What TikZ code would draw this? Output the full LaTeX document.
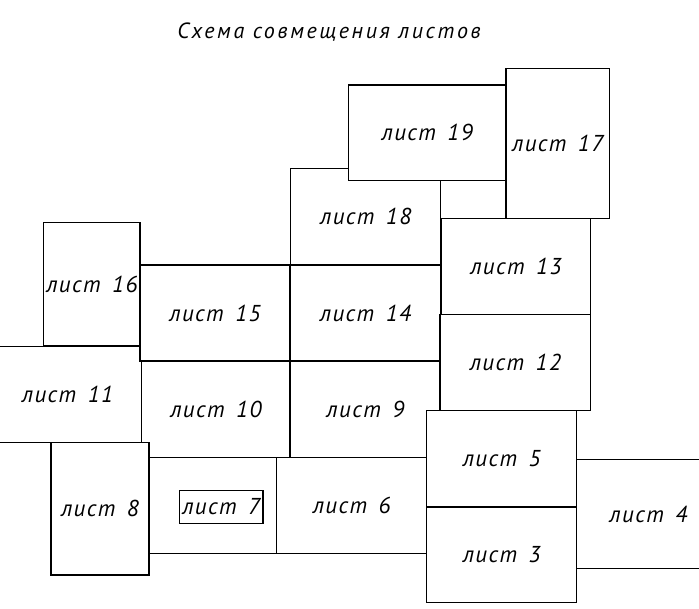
\documentclass[tikz,border=0pt]{standalone}
\usepackage{fontspec}
\setmainfont{PT Sans}
\newcommand{\sheettext}[1]{лист\hspace{0.5em}#1}
\tikzset{
  sheet/.style={draw, fill=white, rectangle, line width=1.3pt, inner sep=0pt, outer sep=0pt,
    font=\fontsize{23}{27}\selectfont\itshape\addfontfeatures{LetterSpace=6}},
  tag/.style={draw, rectangle, line width=1.3pt, inner xsep=3pt, inner ysep=0pt,
    minimum height=33pt, font=\fontsize{23}{27}\selectfont\itshape\addfontfeatures{LetterSpace=6}}
}
\begin{document}
\begin{tikzpicture}[x=1pt,y=-1pt]
    \useasboundingbox (0,0) rectangle (699,609);
    \clip (0,0) rectangle (699,609);
    % Title
    \node[font=\fontsize{22}{26}\selectfont\itshape\addfontfeatures{LetterSpace=12}] (title) at (329,32) {Схема совмещения листов};
    % Left column
    \node[sheet, minimum width=96.3pt, minimum height=123.3pt] (s16) at (91.9,284.4) {\sheettext{16}};
    \node[sheet, minimum width=148.4pt, minimum height=96pt] (s11) at (67.5,394.7) {\sheettext{11}};
    \node[sheet, minimum width=150pt, minimum height=96pt] (s15) at (215,313) {\sheettext{15}};
    \node[sheet, minimum width=148.3pt, minimum height=96.7pt] (s10) at (215.9,409.4) {\sheettext{10}};
    \node[sheet, minimum width=98pt, minimum height=132.3pt] (s8) at (100,508.9) {\sheettext{8}};
    \node[sheet, minimum width=127.7pt, minimum height=96pt] (s7) at (212.9,505.7) {};
    \node[tag] (t7) at (221.2,506.7) {\sheettext{7}};
    % Middle column
    \node[sheet, minimum width=150pt, minimum height=96.7pt] (s18) at (365.7,216.7) {\sheettext{18}};
    \node[sheet, minimum width=157.7pt, minimum height=95.7pt] (s19) at (427.2,132.9) {\sheettext{19}};
    \node[sheet, minimum width=149.6pt, minimum height=96pt] (s14) at (365.5,313) {\sheettext{14}};
    \node[sheet, minimum width=149.3pt, minimum height=96.7pt] (s9) at (365.4,409.4) {\sheettext{9}};
    \node[sheet, minimum width=150pt, minimum height=96pt] (s6) at (351.7,505.7) {\sheettext{6}};
    % Right column
    \node[sheet, minimum width=103.3pt, minimum height=150pt] (s17) at (557.7,143.3) {\sheettext{17}};
    \node[sheet, minimum width=149.7pt, minimum height=95.6pt] (s13) at (515.9,266.5) {\sheettext{13}};
    \node[sheet, minimum width=150.7pt, minimum height=96.4pt] (s12) at (515.4,362.5) {\sheettext{12}};
    \node[sheet, minimum width=150pt, minimum height=96.3pt] (s5) at (501.7,458.9) {\sheettext{5}};
    \node[sheet, minimum width=150pt, minimum height=95.7pt] (s3) at (501.7,554.9) {\sheettext{3}};
    \node[sheet, minimum width=143.3pt, minimum height=109.4pt] (s4) at (648.4,514) {\sheettext{4}};
\end{tikzpicture}
\end{document}
